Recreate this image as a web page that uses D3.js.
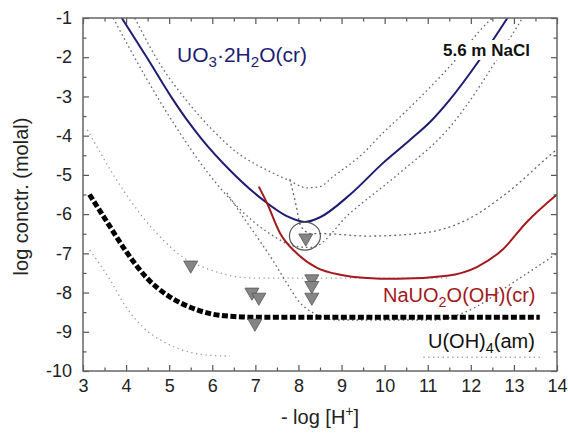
<!DOCTYPE html>
<meta charset="utf-8">
<script src="https://d3js.org/d3.v7.min.js"></script>
<style>
  body { margin: 0; background: #fff; }
  text { font-family: "Liberation Sans", Arial, sans-serif; }
</style>
<div id="chart"></div>
<script>
// ---- data ----
var xTicks = [3, 4, 5, 6, 7, 8, 9, 10, 11, 12, 13, 14];
var yTicks = [-1, -2, -3, -4, -5, -6, -7, -8, -9, -10];

// UO3.2H2O(cr) solubility (solid navy) and its bands
var uo3X = [3.9, 4.49, 5.07, 5.4, 5.75, 6.41, 7.18, 7.73, 8.15, 8.5, 9.2, 9.96, 10.6, 11.1, 11.5, 12.2, 12.85];
var uo3Y = [-1, -2.02, -3.05, -3.58, -4.08, -4.88, -5.64, -6.05, -6.2, -6.08, -5.5, -4.7, -4.1, -3.6, -3.1, -2.07, -1];
var uo3HiX = [4.2, 4.8, 5.4, 6.0, 6.6, 7.27, 7.76, 8.2, 8.5, 8.8, 9.5, 9.96, 10.35, 11.5, 12.45, 12.5];
var uo3HiY = [-1, -2.2, -3.1, -3.85, -4.45, -4.88, -5.13, -5.33, -5.3, -5.05, -4.45, -3.93, -3.53, -2.25, -1.05, -1];
var uo3LoX = [3.7, 4.45, 5.2, 5.9, 6.5, 7.27, 8.03, 8.3, 9.2, 10.35, 11.45, 13.07, 13.2];
var uo3LoY = [-1, -2.5, -3.85, -4.95, -5.72, -6.45, -6.84, -6.85, -5.97, -4.95, -3.86, -1.23, -1];

// NaUO2O(OH)(cr) solubility (solid red) and its bands
var naX = [7.08, 7.27, 7.57, 7.96, 8.43, 9.0, 9.5, 10.3, 11.45, 12.14, 12.74, 13.3, 14];
var naY = [-5.3, -5.72, -6.48, -7.0, -7.37, -7.55, -7.62, -7.65, -7.57, -7.35, -6.9, -6.2, -5.5];
var naHiX = [7.8, 7.95, 8.05, 8.3, 8.6, 9.6, 10.9, 11.9, 12.84, 13.9, 14];
var naHiY = [-5.1, -5.8, -6.3, -6.5, -6.5, -6.56, -6.48, -6.15, -5.46, -4.44, -4.35];
var naLoX = [6.34, 6.7, 7.05, 7.4, 7.73, 8.03, 8.4, 8.9, 11.2, 11.8, 13.07, 14];
var naLoY = [-5.46, -6.05, -6.6, -7.17, -7.76, -8.25, -8.55, -8.7, -8.7, -8.53, -7.68, -7.0];

// U(OH)4(am) solubility (thick black dashes) and its bands
var uohX = [3.15, 3.5, 4.0, 4.5, 5.0, 5.5, 6.0, 6.5, 7.0, 13.6];
var uohY = [-5.5, -6.1, -6.95, -7.65, -8.1, -8.38, -8.55, -8.61, -8.63, -8.63];
var uohHiX = [3.1, 3.85, 4.39, 4.86, 5.32, 5.85, 6.18, 6.57, 7.0, 11.45];
var uohHiY = [-3.85, -5.25, -6.08, -6.66, -7.1, -7.38, -7.5, -7.6, -7.63, -7.63];
var uohLoX = [3.16, 3.63, 4.0, 4.39, 4.93, 5.48, 5.95, 6.41];
var uohLoY = [-6.92, -7.68, -8.37, -8.88, -9.29, -9.52, -9.6, -9.62];
var uohLo2X = [10.9, 13.6];
var uohLo2Y = [-9.65, -9.65];

// experimental points
var expX = [5.5, 6.92, 7.08, 6.99, 8.17, 8.31, 8.31, 8.31];
var expY = [-7.3, -7.99, -8.12, -8.78, -6.61, -7.65, -7.82, -8.12];

// ---- layout ----
var W = 568, H = 434;
var pL = 83, pR = 557, pT = 18, pB = 371;

var svg = d3.select("#chart").append("svg")
  .attr("width", W).attr("height", H);

var x = d3.scaleLinear().domain([3, 14]).range([pL, pR]);
var y = d3.scaleLinear().domain([-10, -1]).range([pB, pT]);

svg.append("clipPath").attr("id", "plot")
  .append("rect").attr("x", pL).attr("y", pT)
  .attr("width", pR - pL).attr("height", pB - pT);

function pts(xs, ys) {
  return xs.map(function(v, i) { return [v, ys[i]]; });
}
var line = d3.line()
  .x(function(d) { return x(d[0]); })
  .y(function(d) { return y(d[1]); })
  .curve(d3.curveMonotoneX);

var g = svg.append("g").attr("clip-path", "url(#plot)");

function band(xs, ys, dash, col) {
  g.append("path").datum(pts(xs, ys))
    .attr("d", line)
    .attr("fill", "none")
    .attr("stroke", col || "#666")
    .attr("stroke-width", 1.3)
    .attr("stroke-dasharray", dash || "1.5,3");
}

band(uohHiX, uohHiY, "1.3,3.5", "#9a9a9a");
band(uohLoX, uohLoY, "1.3,3.5", "#9a9a9a");
band(uohLo2X, uohLo2Y, "1.3,3.5", "#9a9a9a");
band(uo3HiX, uo3HiY, "1.6,3");
band(uo3LoX, uo3LoY, "1.6,3");
band(naHiX, naHiY, "2,3");
band(naLoX, naLoY, "1.6,3");

g.append("path").datum(pts(uohX, uohY))
  .attr("d", line).attr("fill", "none")
  .attr("stroke", "#000").attr("stroke-width", 5)
  .attr("stroke-dasharray", "6,2.5");

g.append("path").datum(pts(uo3X, uo3Y))
  .attr("d", line).attr("fill", "none")
  .attr("stroke", "#1d1d72").attr("stroke-width", 2);

g.append("path").datum(pts(naX, naY))
  .attr("d", line).attr("fill", "none")
  .attr("stroke", "#a3191d").attr("stroke-width", 2);

// circled point
g.append("ellipse")
  .attr("cx", x(8.15)).attr("cy", y(-6.56))
  .attr("rx", 15.5).attr("ry", 14)
  .attr("fill", "none").attr("stroke", "#555").attr("stroke-width", 1.2);

// triangles
svg.append("g").selectAll("path")
  .data(pts(expX, expY))
  .enter().append("path")
  .attr("d", d3.symbol().type(d3.symbolTriangle).size(85))
  .attr("transform", function(d) {
    return "translate(" + x(d[0]) + "," + y(d[1]) + ") rotate(180)";
  })
  .attr("fill", "#858585")
  .attr("stroke", "#555")
  .attr("stroke-width", 0.8);

// ---- axes ----
function styleAxis(sel) {
  sel.select(".domain").remove();
  sel.selectAll("line").attr("stroke", "#555").attr("stroke-width", 1.2);
  sel.selectAll("text").attr("font-size", 18).attr("fill", "#222")
    .style("font-family", '"Liberation Sans", Arial, sans-serif');
}
var half = function(a) { return a.slice(0, -1).map(function(v) { return v + 0.5; }); };
var xMinor = half(xTicks);
var yMinor = [-1.5, -2.5, -3.5, -4.5, -5.5, -6.5, -7.5, -8.5, -9.5];

svg.append("g").attr("transform", "translate(0," + pB + ")")
  .call(d3.axisBottom(x).tickValues(xTicks).tickSize(-6).tickPadding(8).tickFormat(d3.format("d")))
  .call(styleAxis);
svg.append("g").attr("transform", "translate(0," + pB + ")")
  .call(d3.axisBottom(x).tickValues(xMinor).tickSize(-3.5).tickFormat(""))
  .call(styleAxis);
svg.append("g").attr("transform", "translate(0," + pT + ")")
  .call(d3.axisTop(x).tickValues(xTicks).tickSize(-6).tickFormat(""))
  .call(styleAxis);
svg.append("g").attr("transform", "translate(0," + pT + ")")
  .call(d3.axisTop(x).tickValues(xMinor).tickSize(-3.5).tickFormat(""))
  .call(styleAxis);

svg.append("g").attr("transform", "translate(" + pL + ",0)")
  .call(d3.axisLeft(y).tickValues(yTicks).tickSize(-6).tickPadding(11).tickFormat(d3.format("d")))
  .call(styleAxis);
svg.append("g").attr("transform", "translate(" + pL + ",0)")
  .call(d3.axisLeft(y).tickValues(yMinor).tickSize(-3.5).tickFormat(""))
  .call(styleAxis);
svg.append("g").attr("transform", "translate(" + pR + ",0)")
  .call(d3.axisRight(y).tickValues(yTicks).tickSize(-6).tickFormat(""))
  .call(styleAxis);
svg.append("g").attr("transform", "translate(" + pR + ",0)")
  .call(d3.axisRight(y).tickValues(yMinor).tickSize(-3.5).tickFormat(""))
  .call(styleAxis);

// minus sign in tick labels should be a hyphen like the original
svg.selectAll(".tick text").text(function() { return this.textContent.replace("\u2212", "-"); });

// frame
svg.append("rect")
  .attr("x", pL).attr("y", pT)
  .attr("width", pR - pL).attr("height", pB - pT)
  .attr("fill", "none").attr("stroke", "#666").attr("stroke-width", 1.5);

// ---- labels ----
svg.append("text")
  .attr("transform", "translate(28," + ((pT + pB) / 2 + 2) + ") rotate(-90)")
  .attr("text-anchor", "middle").attr("font-size", 20).attr("fill", "#222")
  .text("log conctr. (molal)");

var xl = svg.append("text")
  .attr("x", (pL + pR) / 2).attr("y", 424)
  .attr("text-anchor", "middle").attr("font-size", 20).attr("fill", "#222");
xl.append("tspan").text("- log [H");
xl.append("tspan").attr("dy", -8).attr("font-size", 14).text("+");
xl.append("tspan").attr("dy", 8).text("]");

function chem(tx, ty, parts, color, size) {
  var t = svg.append("text").attr("x", tx).attr("y", ty)
    .attr("font-size", size).attr("fill", color);
  var down = false;
  parts.forEach(function(p) {
    var s = t.append("tspan").text(p[0]);
    if (p[1] && !down) { s.attr("dy", 5).attr("font-size", size * 0.72); down = true; }
    else if (!p[1] && down) { s.attr("dy", -5); down = false; }
  });
  return t;
}

chem(177, 62, [["UO"], ["3", 1], ["\u00b72H"], ["2", 1], ["O(cr)"]], "#1d1d72", 21);
chem(383, 302, [["NaUO"], ["2", 1], ["O(OH)(cr)"]], "#a3191d", 20);
chem(428, 348, [["U(OH)"], ["4", 1], ["(am)"]], "#111", 20);

var nb = svg.append("g");
nb.append("rect").attr("x", 441).attr("y", 40).attr("width", 102).attr("height", 20).attr("fill", "#fff");
nb.append("text").attr("x", 443).attr("y", 56)
  .attr("font-size", 17).attr("font-weight", "bold").attr("fill", "#111")
  .text("5.6 m NaCl");
</script>
